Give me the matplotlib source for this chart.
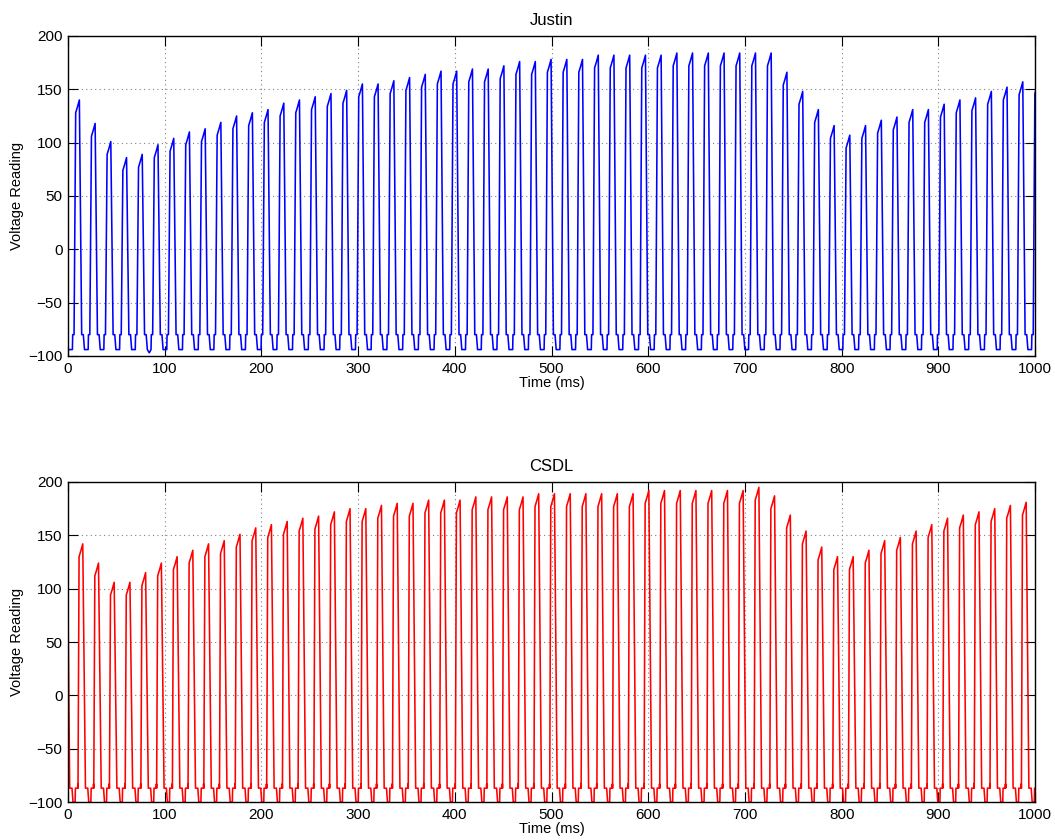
import numpy as np
import matplotlib.pyplot as plt

plt.rcParams["font.family"] = ["Liberation Sans", "DejaVu Sans"]
plt.rcParams["axes.unicode_minus"] = True

# peak times (ms) and peak voltages
JUSTIN_T = [11.7, 28.0, 44.2, 60.5, 76.7, 93.0, 109.3, 125.5, 141.8, 158.0,
            174.3, 190.6, 206.8, 223.1, 239.3, 255.6, 271.9, 288.1, 304.4, 320.6,
            336.9, 353.2, 369.4, 385.7, 401.9, 418.2, 434.5, 450.7, 467.0, 483.2,
            499.5, 515.8, 532.0, 548.3, 564.5, 580.8, 597.1, 613.3, 629.6, 645.8,
            662.1, 678.4, 694.6, 710.9, 727.1, 743.4, 759.7, 775.9, 792.2, 808.4,
            824.7, 841.0, 857.2, 873.5, 889.7, 906.0, 922.3, 938.5, 954.8, 971.0,
            987.3, 1003.6]
JUSTIN_PEAK = [140, 118, 101, 86, 89, 98, 104, 110, 113, 119,
               125, 128, 131, 137, 140, 143, 146, 149, 155, 155,
               158, 161, 164, 167, 167, 169, 169, 172, 176, 176,
               178, 178, 178, 182, 182, 182, 182, 182, 184, 184,
               184, 184, 184, 184, 184, 166, 148, 131, 116, 107,
               116, 121, 124, 131, 131, 136, 140, 142, 148, 152,
               157, 158]

CSDL_T = [-1.1, 15.2, 31.5, 47.7, 64.0, 80.2, 96.5, 112.8, 129.0, 145.3, 161.5,
          177.8, 194.1, 210.3, 226.6, 242.8, 259.1, 275.4, 291.6, 307.9, 324.1,
          340.4, 356.7, 372.9, 389.2, 405.4, 421.7, 438.0, 454.2, 470.5, 486.7,
          503.0, 519.3, 535.5, 551.8, 568.0, 584.3, 600.6, 616.8, 633.1, 649.3,
          665.6, 681.9, 698.1, 714.4, 730.6, 746.9, 763.2, 779.4, 795.7, 811.9,
          828.2, 844.5, 860.7, 877.0, 893.2, 909.5, 925.8, 942.0, 958.3, 974.5,
          990.8, 1007.1]
CSDL_PEAK = [188, 142, 124, 106, 106, 115, 124, 130, 136, 142, 145,
             151, 157, 160, 163, 166, 168, 172, 175, 175, 178,
             180, 180, 183, 183, 183, 186, 186, 186, 186, 189,
             189, 189, 189, 189, 189, 189, 192, 192, 192, 192,
             192, 192, 192, 195, 187, 169, 154, 139, 130, 130,
             136, 145, 148, 154, 160, 166, 169, 172, 175, 178,
             181, 182]

JUSTIN_LEVELS = {"b": -94, "s": -80}
CSDL_LEVELS = {"b": -100, "s": -87, "k": -83}
JUSTIN_DIP = (84.0, -97)

# waveform outline around each peak: (dt, level key or "p", offset)
JUSTIN_SHAPE = [(-7.2, "b", 0), (-6.9, "s", 0), (-5.5, "s", 0), (-3.8, "p", -12),
                (-1.8, "p", -6), (0.0, "p", 0), (2.4, "s", 0), (4.1, "s", 0),
                (5.3, "b", 0)]
CSDL_SHAPE = [(-7.9, "b", 0), (-7.6, "s", 0), (-5.3, "s", 0), (-5.1, "k", 0),
              (-4.9, "s", 0), (-3.8, "p", -12), (-1.8, "p", -6), (0.0, "p", 0),
              (2.8, "s", 0), (5.2, "s", 0), (6.2, "b", 0)]


def build(times, peaks, levels, shape, start=None):
    t, v = [], []
    if start is not None:
        t.append(start[0])
        v.append(start[1])
    for tp, p in zip(times, peaks):
        for dt, ref, off in shape:
            t.append(tp + dt)
            v.append((p if ref == "p" else levels[ref]) + off)
    return np.array(t), np.array(v)


jt, jv = build(JUSTIN_T, JUSTIN_PEAK, JUSTIN_LEVELS, JUSTIN_SHAPE, start=(0, -94))
jt = np.append(jt, JUSTIN_DIP[0])
jv = np.append(jv, JUSTIN_DIP[1])
order = np.argsort(jt, kind="stable")
jt, jv = jt[order], jv[order]

ct, cv = build(CSDL_T, CSDL_PEAK, CSDL_LEVELS, CSDL_SHAPE)

fig = plt.figure(figsize=(10.55, 8.4), dpi=100)
ax1 = fig.add_axes([0.0645, 0.5762, 0.9166, 0.381])
ax2 = fig.add_axes([0.0645, 0.0452, 0.9166, 0.381])

for ax, t, v, color, title in [(ax1, jt, jv, "#0000ff", "Justin"),
                               (ax2, ct, cv, "#ff0000", "CSDL")]:
    ax.plot(t, v, color=color, lw=1.15)
    ax.set_xlim(0, 1000)
    ax.set_ylim(-100, 200)
    ax.set_xticks(np.arange(0, 1001, 100))
    ax.set_yticks(np.arange(-100, 201, 50))
    ax.grid(True, color="#808080", linestyle=(0, (1, 3)), linewidth=0.8)
    ax.tick_params(direction="in", length=7, width=0.8, top=True, right=True,
                   labelsize=11, pad=4)
    for s in ax.spines.values():
        s.set_linewidth(1.0)
    ax.set_title(title, fontsize=12, pad=8)
    ax.set_xlabel("Time (ms)", fontsize=10.5, labelpad=0)
    ax.set_ylabel("Voltage Reading", fontsize=10.5, labelpad=3)

fig.savefig("out.png", dpi=100)
